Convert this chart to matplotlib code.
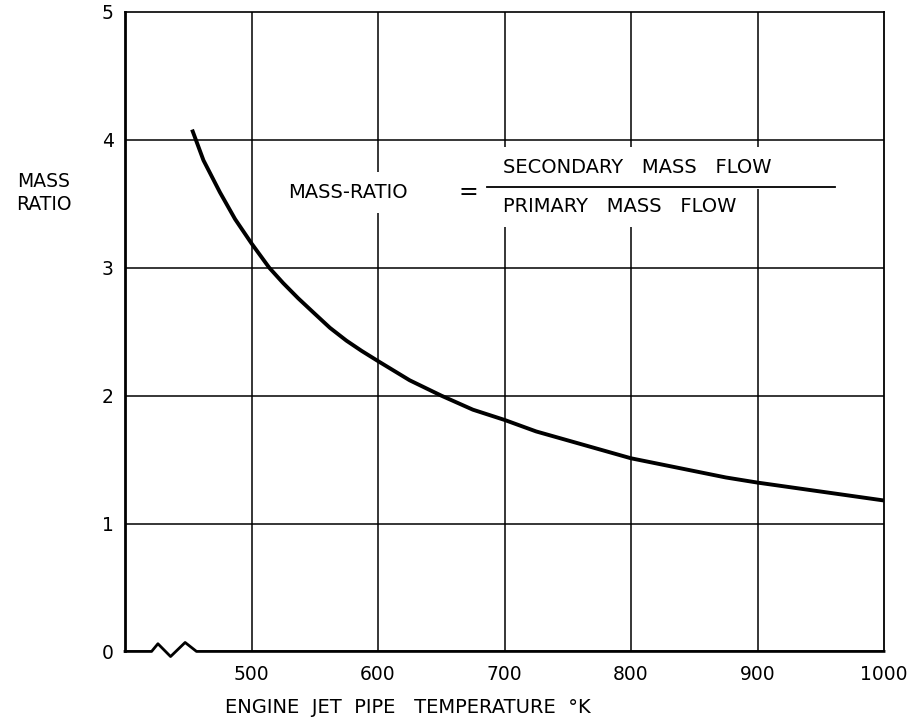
import matplotlib
matplotlib.use("Agg")
import matplotlib.pyplot as plt

# curve
temperature = [453, 462, 475, 487, 500, 514, 525, 537, 550, 562, 575, 587, 600, 625, 650,
               675, 700, 725, 750, 775, 800, 825, 850, 875, 900, 925, 950, 975, 1000]
mass_ratio = [4.08, 3.84, 3.59, 3.38, 3.19, 3.00, 2.88, 2.76, 2.64, 2.53, 2.43, 2.35, 2.27, 2.12, 2.00,
              1.89, 1.81, 1.72, 1.65, 1.58, 1.51, 1.46, 1.41, 1.36, 1.32, 1.285, 1.25, 1.215, 1.18]

x_ticks = [500, 600, 700, 800, 900, 1000]
y_ticks = [0, 1, 2, 3, 4, 5]

# broken x axis near the origin
break_x = [400, 421, 426, 436, 447.5, 456.5, 1000]
break_y = [0, 0, 0.06, -0.04, 0.07, 0, 0]

plt.rcParams["font.family"] = ["DejaVu Sans"]

fig = plt.figure(figsize=(9.2, 7.23), dpi=100)
ax = fig.add_axes([0.1359, 0.099, 0.825, 0.8845])

ax.set_xlim(400, 1000)
ax.set_ylim(0, 5)

# grid
for v in x_ticks[:-1]:
    ax.axvline(v, color="black", lw=1.1, zorder=1)
for v in y_ticks[1:-1]:
    ax.axhline(v, color="black", lw=1.1, zorder=1)

ax.plot(temperature, mass_ratio, color="black", lw=2.8, zorder=4, solid_capstyle="butt")

ax.spines["bottom"].set_visible(False)
ax.spines["left"].set_linewidth(2)
ax.spines["top"].set_linewidth(1.2)
ax.spines["right"].set_linewidth(1.3)
ax.plot(break_x, break_y, color="black", lw=2, clip_on=False, zorder=5)

ax.set_xticks(x_ticks)
ax.set_yticks(y_ticks)
ax.tick_params(axis="x", length=0, pad=10, labelsize=13.5)
ax.tick_params(axis="y", length=0, pad=8, labelsize=13.5)

# axis titles
ax.text(-0.107, 0.717, "MASS\nRATIO", transform=ax.transAxes, ha="center", va="center",
        fontsize=13.5, linespacing=1.3)
ax.text(0.372, -0.088, "ENGINE  JET  PIPE   TEMPERATURE  °K", transform=ax.transAxes,
        ha="center", va="center", fontsize=14)

# definition of the mass ratio
box = dict(facecolor="white", edgecolor="none", pad=8)
ax.text(0.215, 0.717, "MASS-RATIO", transform=ax.transAxes, ha="left", va="center",
        fontsize=14, bbox=box, zorder=3)
ax.text(0.453, 0.719, "=", transform=ax.transAxes, ha="center", va="center",
        fontsize=17, bbox=box, zorder=3)
ax.text(0.498, 0.756, "SECONDARY   MASS   FLOW", transform=ax.transAxes, ha="left", va="center",
        fontsize=14, bbox=box, zorder=3)
ax.text(0.498, 0.6955, "PRIMARY   MASS   FLOW", transform=ax.transAxes, ha="left", va="center",
        fontsize=14, bbox=box, zorder=3)
ax.plot([0.477, 0.935], [0.7268, 0.7268], transform=ax.transAxes, color="black", lw=1.3, zorder=4)

fig.savefig("out.png", dpi=100, facecolor="white")
